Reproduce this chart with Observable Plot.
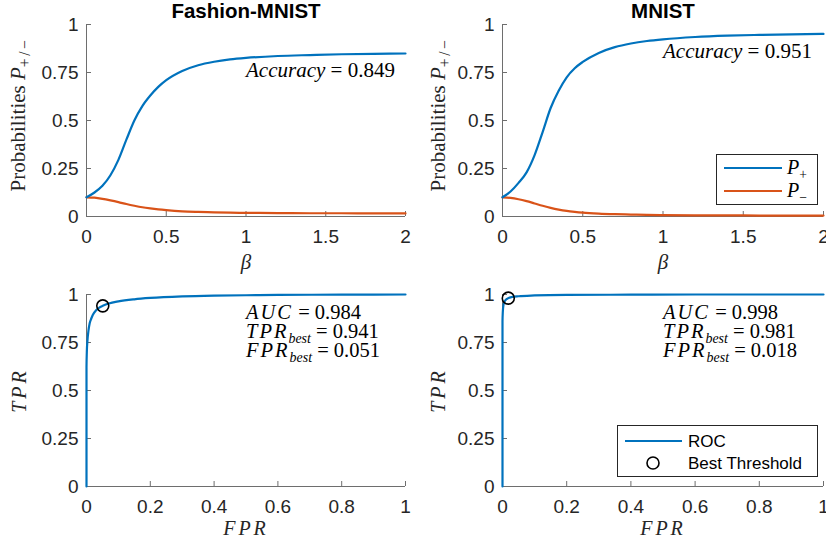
<!DOCTYPE html>
<html>
<head>
<meta charset="utf-8">
<script src="https://cdn.jsdelivr.net/npm/d3@7"></script>
<script src="https://cdn.jsdelivr.net/npm/@observablehq/plot@0.6"></script>
<style>
  body { margin: 0; background: #fff; }
  #fig { position: relative; width: 826px; height: 547px; overflow: hidden; background: #fff; }
  #fig svg { position: absolute; }
</style>
</head>
<body>
<div id="fig"></div>
<script>
// ---- data ----
const beta = [0, 0.05, 0.1, 0.15, 0.2, 0.25, 0.3, 0.35, 0.4, 0.45, 0.5, 0.6, 0.7, 0.8, 0.9, 1.0, 1.2, 1.4, 1.6, 1.8, 2.0];
const fashionPlus  = [0.100, 0.125, 0.160, 0.215, 0.295, 0.400, 0.500, 0.575, 0.630, 0.675, 0.710, 0.758, 0.788, 0.806, 0.818, 0.826, 0.836, 0.841, 0.845, 0.847, 0.849];
const fashionMinus = [0.100, 0.098, 0.092, 0.084, 0.075, 0.065, 0.056, 0.048, 0.042, 0.037, 0.033, 0.027, 0.024, 0.022, 0.020, 0.019, 0.018, 0.017, 0.017, 0.016, 0.016];
const mnistPlus    = [0.100, 0.130, 0.175, 0.230, 0.320, 0.440, 0.565, 0.655, 0.725, 0.772, 0.805, 0.852, 0.882, 0.901, 0.914, 0.923, 0.935, 0.942, 0.946, 0.949, 0.951];
const mnistMinus   = [0.100, 0.097, 0.090, 0.080, 0.068, 0.056, 0.045, 0.036, 0.029, 0.024, 0.020, 0.015, 0.012, 0.010, 0.008, 0.007, 0.006, 0.006, 0.005, 0.005, 0.005];

const fashionFpr = [0, 0, 0.001, 0.003, 0.006, 0.01, 0.015, 0.02, 0.03, 0.04, 0.051, 0.07, 0.1, 0.15, 0.2, 0.3, 0.4, 0.5, 0.6, 0.8, 1.0];
const fashionTpr = [0, 0.62, 0.70, 0.76, 0.81, 0.85, 0.875, 0.895, 0.918, 0.932, 0.941, 0.953, 0.964, 0.975, 0.982, 0.990, 0.994, 0.996, 0.998, 0.999, 1.0];
const mnistFpr = [0, 0, 0.001, 0.003, 0.006, 0.01, 0.018, 0.03, 0.05, 0.1, 0.2, 0.4, 0.6, 1.0];
const mnistTpr = [0, 0.86, 0.91, 0.945, 0.962, 0.972, 0.981, 0.987, 0.991, 0.995, 0.998, 0.999, 1.0, 1.0];

const datasets = ["Fashion-MNIST", "MNIST"];
const aucValues = [0.984, 0.998];
const bestFpr = [0.051, 0.018];
const bestTpr = [0.941, 0.981];

const betaTicks = [0, 0.5, 1, 1.5, 2];
const probTicks = [0, 0.25, 0.5, 0.75, 1];
const rateTicks = [0, 0.2, 0.4, 0.6, 0.8, 1];

// ---- style ----
const SANS = '"Liberation Sans", Arial, Helvetica, sans-serif';
const SERIF = '"Liberation Serif", "Times New Roman", serif';
const BLUE = "#0072BD", ORANGE = "#D95319", AXIS = "#6e6e6e", INK = "#262626";
const NS = "http://www.w3.org/2000/svg";
const fig = document.getElementById("fig");

// Text marks are drawn with a short key; each key is then rebuilt as styled runs
// (italic math letters, subscripts) that a plain text channel cannot express.
function rich(svg, key, parts) {
  for (const t of svg.querySelectorAll("text")) {
    if (t.textContent !== key) continue;
    while (t.firstChild) t.removeChild(t.firstChild);
    fillRuns(t, parts);
  }
}
function fillRuns(t, parts) {
  let shift = 0;
  for (const p of parts) {
    const s = document.createElementNS(NS, "tspan");
    s.textContent = p.t;
    if (p.i) s.setAttribute("font-style", "italic");
    if (p.ls) s.setAttribute("letter-spacing", p.ls);
    const want = p.sub ? 5 : 0;
    if (want !== shift) { s.setAttribute("dy", want - shift); shift = want; }
    if (p.sub) s.setAttribute("font-size", p.fs || "0.68em");
    t.appendChild(s);
  }
}

function panel({left, top, width, height, mL, mR, mT, mB, xDomain, xTicks, marks}) {
  const iw = width - mL - mR, ih = height - mT - mB;
  const svg = Plot.plot({
    width, height,
    marginLeft: mL, marginRight: mR, marginTop: mT, marginBottom: mB,
    style: {fontSize: "19px", fontFamily: SANS, color: INK, background: "transparent"},
    x: {domain: xDomain, ticks: xTicks, tickSize: 0, tickPadding: 13, tickFormat: d => String(d), label: null},
    y: {domain: [0, 1], ticks: probTicks, tickSize: 0, tickPadding: 8, tickFormat: d => String(d), label: null},
    marks: [
      Plot.ruleX([xDomain[0]], {stroke: AXIS, strokeWidth: 1}),
      Plot.ruleY([0], {stroke: AXIS, strokeWidth: 1}),
      Plot.tickY(probTicks, {y: d => d, stroke: AXIS, strokeWidth: 1, insetRight: iw - 5}),
      Plot.tickX(xTicks, {x: d => d, stroke: AXIS, strokeWidth: 1, insetTop: ih - 5}),
      ...marks
    ]
  });
  svg.style.left = left + "px";
  svg.style.top = top + "px";
  fig.appendChild(svg);
  return svg;
}

// ---- top row: probabilities vs beta ----
const probSeries = [
  {plus: fashionPlus, minus: fashionMinus},
  {plus: mnistPlus, minus: mnistMinus}
];
const topGeom = [
  {left: 0, width: 413, mL: 86, mR: 8},
  {left: 413, width: 413, mL: 89, mR: 3}
];
probSeries.forEach((s, k) => {
  const rows = beta.map((b, i) => ({beta: b, plus: s.plus[i], minus: s.minus[i]}));
  const acc = s.plus[s.plus.length - 1];
  const svg = panel({
    ...topGeom[k], top: 0, height: 275, mT: 24, mB: 59,
    xDomain: [0, 2], xTicks: betaTicks,
    marks: [
      Plot.line(rows, {x: "beta", y: "minus", stroke: ORANGE, strokeWidth: 2.2, curve: "monotone-x"}),
      Plot.line(rows, {x: "beta", y: "plus", stroke: BLUE, strokeWidth: 2.2, curve: "monotone-x"}),
      Plot.text([datasets[k]], {frameAnchor: "top", dy: -13, lineAnchor: "middle", fontSize: 20.5, fontWeight: "bold", fill: "#000"}),
      Plot.text([{x: 1, y: acc - 0.1}], {x: "x", y: "y", text: () => "@acc", textAnchor: "start", lineAnchor: "middle", dy: -2,
        fontFamily: SERIF, fontSize: 21, fill: "#000"}),
      Plot.text(["β"], {frameAnchor: "bottom", dy: 46, lineAnchor: "middle", fontFamily: SERIF, fontStyle: "italic", fontSize: 21, fill: INK}),
      Plot.text(["@prob"], {frameAnchor: "left", textAnchor: "middle", dx: k ? -64 : -68, dy: -6, rotate: -90, lineAnchor: "middle",
        fontFamily: SERIF, fontSize: 21, fill: INK})
    ]
  });
  rich(svg, "@acc", [{t: "Accuracy", i: 1}, {t: " = " + acc.toFixed(3)}]);
  rich(svg, "@prob", [{t: "Probabilities "}, {t: "P", i: 1}, {t: "+/−", sub: 1, fs: "0.75em", ls: 2.5}]);
});

// ---- bottom row: ROC curves ----
const rocSeries = [
  {fpr: fashionFpr, tpr: fashionTpr},
  {fpr: mnistFpr, tpr: mnistTpr}
];
rocSeries.forEach((s, k) => {
  const rows = s.fpr.map((f, i) => ({fpr: f, tpr: s.tpr[i]}));
  const best = [{fpr: bestFpr[k], tpr: bestTpr[k]}];
  const note = {x: 0.5, y: 0.8};
  const noteText = (key, dy) => Plot.text([note], {x: "x", y: "y", text: () => key, textAnchor: "start", lineAnchor: "middle", dy,
    fontFamily: SERIF, fontSize: 20.5, fill: "#000"});
  const svg = panel({
    ...topGeom[k], top: 275, height: 272, mT: 19, mB: 61,
    xDomain: [0, 1], xTicks: rateTicks,
    marks: [
      Plot.line(rows, {x: "fpr", y: "tpr", stroke: BLUE, strokeWidth: 2.2, curve: "monotone-x"}),
      Plot.dot(best, {x: "fpr", y: "tpr", r: 6, stroke: "#000", strokeWidth: 1.6, fill: "none"}),
      noteText("@auc", -20.5),
      noteText("@tpr", -1.5),
      noteText("@fpr", 17.5),
      Plot.text(["@xlab"], {frameAnchor: "bottom", dy: 42, lineAnchor: "middle", fontFamily: SERIF, fontSize: 20, fill: INK}),
      Plot.text(["@ylab"], {frameAnchor: "left", textAnchor: "middle", dx: k ? -64 : -67, rotate: -90, lineAnchor: "middle",
        fontFamily: SERIF, fontSize: 20, fill: INK})
    ]
  });
  rich(svg, "@auc", [{t: "AUC", i: 1, ls: 2}, {t: " = " + aucValues[k].toFixed(3)}]);
  rich(svg, "@tpr", [{t: "TPR", i: 1, ls: 2}, {t: "best", i: 1, sub: 1}, {t: " = " + bestTpr[k].toFixed(3)}]);
  rich(svg, "@fpr", [{t: "FPR", i: 1, ls: 2}, {t: "best", i: 1, sub: 1}, {t: " = " + bestFpr[k].toFixed(3)}]);
  rich(svg, "@xlab", [{t: "FPR", i: 1, ls: 3}]);
  rich(svg, "@ylab", [{t: "TPR", i: 1, ls: 3}]);
});

// ---- legends ----
const overlay = d3.select(fig).append("svg")
  .attr("width", 826).attr("height", 547)
  .style("left", "0px").style("top", "0px").style("pointer-events", "none");

function legendBox(x, y, w, h) {
  overlay.append("rect").attr("x", x + 0.5).attr("y", y + 0.5).attr("width", w).attr("height", h)
    .attr("fill", "#fff").attr("stroke", INK).attr("stroke-width", 1);
}

legendBox(716, 154, 101, 50);
const probLegend = [
  {color: BLUE, sign: "+", y: 168},
  {color: ORANGE, sign: "−", y: 191}
];
probLegend.forEach(e => {
  overlay.append("line").attr("x1", 724).attr("x2", 782).attr("y1", e.y).attr("y2", e.y)
    .attr("stroke", e.color).attr("stroke-width", 2.2);
  const t = overlay.append("text").attr("x", 787).attr("y", e.y).attr("dy", "0.32em")
    .attr("font-family", SERIF).attr("font-size", 20).attr("fill", "#000").node();
  fillRuns(t, [{t: "P", i: 1}, {t: e.sign, sub: 1}]);
});

legendBox(617, 425, 200, 51);
overlay.append("line").attr("x1", 625).attr("x2", 682).attr("y1", 441).attr("y2", 441)
  .attr("stroke", BLUE).attr("stroke-width", 2.2);
overlay.append("circle").attr("cx", 653).attr("cy", 463).attr("r", 6)
  .attr("fill", "none").attr("stroke", "#000").attr("stroke-width", 1.6);
[["ROC", 441], ["Best Threshold", 463]].forEach(([label, y]) => {
  overlay.append("text").attr("x", 688).attr("y", y).attr("dy", "0.35em")
    .attr("font-family", SANS).attr("font-size", 17).attr("fill", "#000").text(label);
});
</script>
</body>
</html>
